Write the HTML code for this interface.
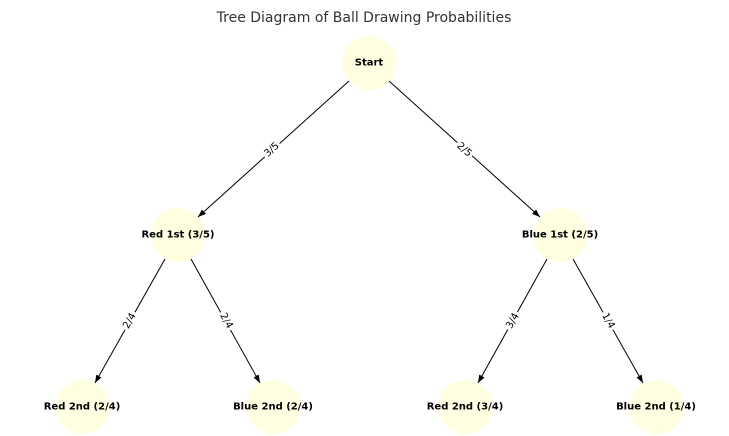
<!DOCTYPE html>
<html><head><style>
html,body{margin:0;padding:0;background:#fff;}
svg{display:block;}
text{font-family:"DejaVu Sans","Liberation Sans",sans-serif;}
.n{font-size:10px;font-weight:bold;fill:#000;text-anchor:middle;dominant-baseline:central;}
.e{font-size:10px;fill:#000;text-anchor:middle;dominant-baseline:central;}
</style></head><body>
<svg width="729" height="436" viewBox="0 0 729 436" xmlns="http://www.w3.org/2000/svg">
<defs><marker id="a" markerWidth="8" markerHeight="6" refX="8" refY="3" orient="auto" markerUnits="userSpaceOnUse"><path d="M0,0 L8,3 L0,6 z" fill="#000"/></marker></defs>
<text x="364" y="18" style="font-size:14px;fill:#333;text-anchor:middle;dominant-baseline:central">Tree Diagram of Ball Drawing Probabilities</text>
<g fill="#fffee0">
<circle cx="369" cy="63" r="27"/><circle cx="178" cy="235" r="27"/><circle cx="560" cy="235" r="27"/>
<circle cx="82" cy="407" r="27"/><circle cx="273" cy="407" r="27"/><circle cx="465" cy="407" r="27"/><circle cx="656" cy="407" r="27"/>
</g>
<g stroke="#000" stroke-width="1" marker-end="url(#a)">
<line x1="349" y1="81" x2="198" y2="217"/>
<line x1="389" y1="81" x2="540" y2="217"/>
<line x1="165" y1="259" x2="95" y2="383"/>
<line x1="191" y1="259" x2="260" y2="383"/>
<line x1="547" y1="259" x2="478" y2="383"/>
<line x1="573" y1="259" x2="643" y2="383"/>
</g>
<g fill="#fff">
<rect x="262" y="142" width="20" height="16" transform="rotate(-42 272 150)"/>
<rect x="454" y="142" width="20" height="16" transform="rotate(42 464 150)"/>
<rect x="120" y="314" width="20" height="14" transform="rotate(-61 130 321)"/>
<rect x="216" y="314" width="20" height="14" transform="rotate(61 226 321)"/>
<rect x="503" y="314" width="20" height="14" transform="rotate(-61 513 321)"/>
<rect x="598" y="314" width="20" height="14" transform="rotate(61 608 321)"/>
</g>
<text class="e" transform="translate(272,150) rotate(-42)">3/5</text>
<text class="e" transform="translate(464,150) rotate(42)">2/5</text>
<text class="e" transform="translate(130,321) rotate(-61)">2/4</text>
<text class="e" transform="translate(226,321) rotate(61)">2/4</text>
<text class="e" transform="translate(513,321) rotate(-61)">3/4</text>
<text class="e" transform="translate(608,321) rotate(61)">1/4</text>
<text class="n" x="369" y="63">Start</text>
<text class="n" x="178" y="235">Red 1st (3/5)</text>
<text class="n" x="560" y="235">Blue 1st (2/5)</text>
<text class="n" x="82" y="407">Red 2nd (2/4)</text>
<text class="n" x="273" y="407">Blue 2nd (2/4)</text>
<text class="n" x="465" y="407">Red 2nd (3/4)</text>
<text class="n" x="656" y="407">Blue 2nd (1/4)</text>
</svg>
</body></html>
